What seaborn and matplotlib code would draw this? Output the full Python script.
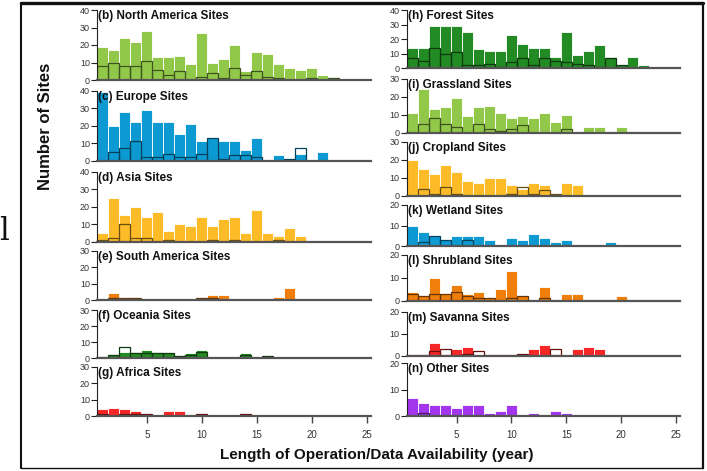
import numpy as np
import pandas as pd
import matplotlib
matplotlib.use("Agg")
import matplotlib.pyplot as plt
from matplotlib.lines import Line2D
import seaborn as sns

# ---- data: number of sites per record length (years 1..22) ----
years = list(range(1, 23))

north_america_all = [19, 17, 24, 22, 28, 13, 13, 14, 9, 27, 10, 12, 20, 5, 16, 15, 9, 7, 6, 7, 3, 2]
north_america_sub = [8, 10, 8, 8, 11, 6, 3, 5, 0, 2, 4, 1, 7, 3, 5, 2, 1, 0, 0, 1, 0, 1]

europe_all = [39, 20, 28, 22, 29, 22, 22, 15, 21, 11, 13, 11, 11, 6, 13, 0, 3, 1, 4, 0, 5, 0]
europe_sub = [0, 5, 7, 11, 2, 2, 4, 2, 2, 4, 13, 1, 3, 3, 2, 0, 0, 1, 7, 0, 0, 0]

asia_all = [5, 25, 15, 20, 14, 17, 6, 10, 9, 14, 9, 13, 14, 5, 18, 5, 3, 8, 3, 0, 0, 0]
asia_sub = [1, 2, 10, 2, 2, 0, 1, 0, 0, 0, 1, 0, 1, 0, 0, 0, 1, 0, 0, 0, 0, 0]

south_america_all = [0, 4, 1, 1, 0, 0, 0, 0, 0, 1, 3, 3, 0, 0, 0, 0, 2, 7, 0, 0, 0, 0]
south_america_sub = [0, 1, 1, 1, 0, 0, 0, 0, 0, 1, 1, 0, 0, 0, 0, 0, 0, 0, 0, 0, 0, 0]

oceania_all = [1, 2, 4, 4, 5, 4, 3, 1, 3, 5, 0, 0, 0, 3, 0, 1, 0, 0, 0, 0, 0, 0]
oceania_sub = [0, 2, 7, 3, 3, 3, 3, 1, 2, 4, 0, 0, 0, 2, 0, 1, 0, 0, 0, 0, 0, 0]

africa_all = [4, 5, 4, 3, 1, 0, 3, 3, 0, 1, 0, 0, 0, 1, 0, 0, 0, 0, 0, 0, 0, 0]
africa_sub = [1, 0, 1, 1, 1, 0, 0, 0, 0, 1, 0, 0, 0, 1, 0, 0, 0, 0, 0, 0, 0, 0]

forest_all = [14, 14, 29, 29, 29, 25, 13, 12, 12, 23, 17, 14, 14, 8, 25, 9, 12, 16, 8, 2, 8, 2]
forest_sub = [7, 5, 14, 10, 11, 2, 2, 3, 1, 4, 7, 2, 7, 5, 4, 3, 2, 1, 7, 2, 0, 0]

grassland_all = [11, 24, 13, 14, 19, 9, 14, 15, 11, 8, 9, 8, 11, 6, 10, 0, 3, 3, 0, 3, 1, 0]
grassland_sub = [0, 5, 8, 5, 3, 0, 5, 2, 1, 2, 4, 0, 0, 0, 2, 0, 0, 0, 0, 0, 0, 0]

cropland_all = [20, 15, 12, 17, 13, 8, 7, 10, 10, 6, 4, 7, 6, 1, 7, 6, 0, 0, 0, 0, 0, 0]
cropland_sub = [0, 4, 1, 5, 1, 0, 0, 0, 0, 1, 5, 1, 3, 1, 0, 0, 0, 0, 0, 0, 0, 0]

wetland_all = [10, 7, 5, 3, 5, 5, 5, 3, 0, 4, 3, 6, 4, 2, 3, 0, 0, 0, 2, 0, 0, 0]
wetland_sub = [0, 2, 5, 3, 0, 3, 0, 0, 0, 0, 0, 0, 0, 0, 0, 0, 0, 0, 0, 0, 0, 0]

shrubland_all = [4, 2, 10, 3, 7, 3, 4, 1, 5, 13, 2, 0, 6, 0, 3, 3, 0, 0, 0, 2, 0, 0]
shrubland_sub = [3, 2, 3, 3, 4, 2, 1, 1, 0, 1, 2, 0, 1, 0, 0, 0, 0, 0, 0, 0, 0, 0]

savanna_all = [1, 1, 6, 1, 3, 4, 0, 1, 1, 1, 0, 3, 5, 1, 0, 3, 4, 3, 0, 0, 0, 0]
savanna_sub = [0, 0, 2, 3, 0, 1, 2, 0, 0, 0, 1, 0, 0, 3, 0, 0, 0, 0, 0, 0, 0, 0]

other_all = [7, 5, 4, 4, 3, 4, 4, 1, 2, 4, 0, 1, 0, 2, 1, 0, 0, 0, 0, 0, 0, 0]
other_sub = [0, 1, 0, 0, 0, 0, 0, 0, 0, 0, 0, 0, 0, 0, 0, 0, 0, 0, 0, 0, 0, 0]

titles = ["(b) North America Sites", "(c) Europe Sites", "(d) Asia Sites",
          "(e) South America Sites", "(f) Oceania Sites", "(g) Africa Sites",
          "(h) Forest Sites", "(i) Grassland Sites", "(j) Cropland Sites",
          "(k) Wetland Sites", "(l) Shrubland Sites", "(m) Savanna Sites",
          "(n) Other Sites"]
x_ticks = [5, 10, 15, 20, 25]

# ---- styling ----
GREEN_LIGHT = "#92c84a"
BLUE = "#0d9ad3"
GOLD = "#fcbb27"
ORANGE = "#ef7e0b"
GREEN_DARK = "#238b23"
RED = "#f52727"
PURPLE = "#a335ec"

sns.set_style("white")
plt.rcParams["font.family"] = ["Liberation Sans", "DejaVu Sans"]

W, H = 707, 471
fig = plt.figure(figsize=(W / 100, H / 100), dpi=100)

# column geometry (pixels): x position of year 0 and pixels per year
cols = {"L": (92.0, 11.0), "R": (401.8, 10.97)}
XMIN, XMAX = 0.5, 25.4

# (series_all, series_sub, colour, column, top_px, zero_px, ymax, show_x_axis)
panels = [
    (north_america_all, north_america_sub, GREEN_LIGHT, "L", 10.0, 80.0, 40, False),
    (europe_all, europe_sub, BLUE, "L", 90.7, 160.7, 40, False),
    (asia_all, asia_sub, GOLD, "L", 171.7, 241.7, 40, False),
    (south_america_all, south_america_sub, ORANGE, "L", 250.7, 300.0, 30, False),
    (oceania_all, oceania_sub, GREEN_DARK, "L", 310.0, 358.0, 30, False),
    (africa_all, africa_sub, RED, "L", 366.7, 416.0, 30, True),
    (forest_all, forest_sub, GREEN_DARK, "R", 10.0, 68.3, 40, False),
    (grassland_all, grassland_sub, GREEN_LIGHT, "R", 78.5, 132.7, 30, False),
    (cropland_all, cropland_sub, GOLD, "R", 141.7, 195.7, 30, False),
    (wetland_all, wetland_sub, BLUE, "R", 205.0, 246.0, 20, False),
    (shrubland_all, shrubland_sub, ORANGE, "R", 255.0, 300.7, 20, False),
    (savanna_all, savanna_sub, RED, "R", 311.7, 355.7, 20, False),
    (other_all, other_sub, PURPLE, "R", 363.3, 416.0, 20, True),
]


def darker(c, f=0.42):
    r, g, b = matplotlib.colors.to_rgb(c)
    return (r * f, g * f, b * f)


for title, (v_all, v_sub, colr, col, top_px, zero_px, ymax, show_x) in zip(titles, panels):
    x0, ppy = cols[col]
    left = x0 + XMIN * ppy
    right = x0 + XMAX * ppy
    ax = fig.add_axes([left / W, 1 - zero_px / H, (right - left) / W, (zero_px - top_px) / H])
    df = pd.DataFrame({"year": years, "all": v_all, "sub": v_sub})

    sns.histplot(data=df, x="year", weights="all", discrete=True, color=colr,
                 edgecolor="white", linewidth=0.6, alpha=1.0, ax=ax)
    sns.histplot(data=df, x="year", weights="sub", discrete=True, fill=False,
                 color=darker(colr), linewidth=0.9, ax=ax)

    ax.set_xlim(XMIN, XMAX)
    ax.set_ylim(0, ymax)
    ax.set_xlabel("")
    ax.set_ylabel("")
    ax.set_facecolor("none")
    ax.patch.set_alpha(0)

    for s in ("top", "right"):
        ax.spines[s].set_visible(False)
    ax.spines["left"].set_color("#222222")
    ax.spines["left"].set_linewidth(0.8)
    ax.spines["bottom"].set_color("#555555")
    ax.spines["bottom"].set_linewidth(1.6)
    ax.spines["bottom"].set_zorder(3)

    ax.set_yticks(range(0, ymax + 1, 10))
    ax.tick_params(axis="y", direction="out", length=4, width=0.8, color="#222222",
                   labelsize=6.5, labelcolor="#333333", pad=1.5, left=True)
    if show_x:
        ax.set_xticks(x_ticks)
        ax.tick_params(axis="x", direction="out", length=5, width=1.0, color="#444444",
                       labelsize=7, labelcolor="#333333", pad=5, bottom=True)
    else:
        ax.set_xticks([])

    ax.text(0.55, ymax, title, transform=ax.transData, ha="left", va="top",
            fontsize=8.5, fontweight="bold", color="#111111", clip_on=False)

# axis titles
fig.text(45 / W, 1 - 126 / H, "Number of Sites", rotation=90, ha="center", va="center",
         fontsize=12, fontweight="bold", color="#111111")
fig.text(377 / W, 1 - 455 / H, "Length of Operation/Data Availability (year)",
         ha="center", va="center", fontsize=11, fontweight="bold", color="#111111")
fig.text(4 / W, 1 - 231 / H, "l", ha="center", va="center", fontsize=22,
         family="DejaVu Serif", color="#111111")

# outer frame
fx0, fx1, fy0, fy1 = 21 / W, 703 / W, 1 - 468 / H, 1 - 3 / H
for xs, ys, lw in [((fx0, fx0), (fy0, fy1), 1.5), ((fx1, fx1), (fy0, fy1), 1.6),
                   ((fx0, fx1), (fy1, fy1), 2.4), ((fx0, fx1), (fy0, fy0), 1.0)]:
    fig.add_artist(Line2D(xs, ys, transform=fig.transFigure, color="#111111", lw=lw))

fig.savefig("out.png", dpi=100)
